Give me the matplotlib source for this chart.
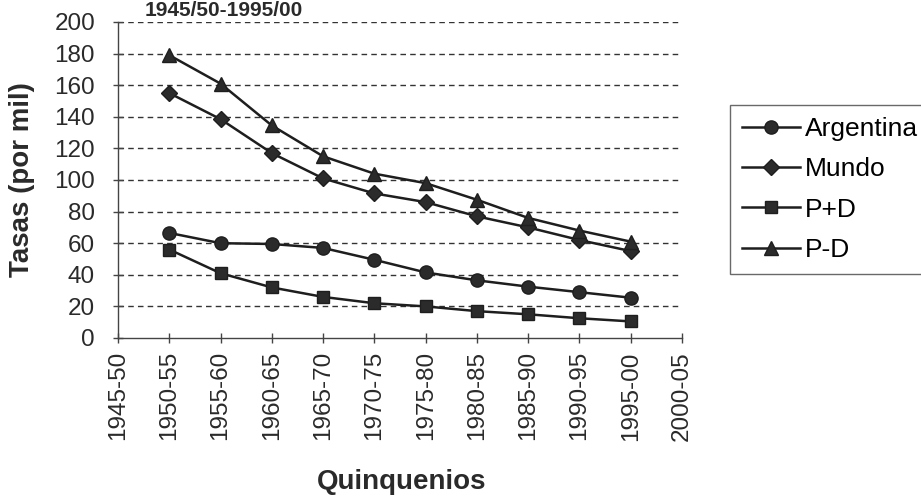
import matplotlib
matplotlib.use("Agg")
import matplotlib.pyplot as plt

plt.rcParams['font.family'] = ['Liberation Sans', 'DejaVu Sans']

quinquenios = ["1945-50", "1950-55", "1955-60", "1960-65", "1965-70", "1970-75",
               "1975-80", "1980-85", "1985-90", "1990-95", "1995-00", "2000-05"]
periodos_datos = ["1950-55", "1955-60", "1960-65", "1965-70", "1970-75",
                  "1975-80", "1980-85", "1985-90", "1990-95", "1995-00"]
argentina = [66.5, 60, 59.5, 57, 49.5, 41.5, 36.5, 32.5, 29, 25.5]
mundo = [155, 138.5, 117, 101, 91.5, 86, 77, 70, 62, 55]
p_mas_d = [56, 41, 32, 26, 22, 20, 17, 15, 12.5, 10.5]
p_menos_d = [179, 161, 134.5, 115, 104, 98, 87.5, 76, 68, 61]
yticks = [0, 20, 40, 60, 80, 100, 120, 140, 160, 180, 200]
titulo = "1945/50-1995/00"

W, H = 921, 499
fig = plt.figure(figsize=(W / 100, H / 100), dpi=100)
ax = fig.add_axes([118 / W, 1 - 338 / H, (682 - 118) / W, (338 - 22) / H])

xpos = [quinquenios.index(p) for p in periodos_datos]
c = "#1e1e1e"
common = dict(color=c, lw=1.8, markerfacecolor="#2b2b2b", markeredgecolor=c)
ax.plot(xpos, argentina, marker="o", markersize=9.5, label="Argentina", **common)
ax.plot(xpos, mundo, marker="D", markersize=8, label="Mundo", **common)
ax.plot(xpos, p_mas_d, marker="s", markersize=9, label="P+D", **common)
ax.plot(xpos, p_menos_d, marker="^", markersize=10.5, label="P-D", **common)

ax.set_xlim(0, len(quinquenios) - 1)
ax.set_ylim(0, 200)
ax.set_xticks(range(len(quinquenios)))
ax.set_xticklabels(quinquenios, rotation=90, fontsize=17.5, color="#2a2a2a")
ax.set_yticks(yticks)
ax.set_yticklabels([str(v) for v in yticks], fontsize=17.5, color="#2a2a2a")
ax.tick_params(axis="both", direction="inout", length=7, width=1, color="#444444")
ax.tick_params(axis="y", pad=13)
ax.tick_params(axis="x", pad=6)

for v in yticks[1:]:
    ax.axhline(v, color="#333333", lw=1.0, ls=(0, (4, 3)), zorder=0)

for s in ["top", "right"]:
    ax.spines[s].set_visible(False)
for s in ["left", "bottom"]:
    ax.spines[s].set_color("#444444")
    ax.spines[s].set_linewidth(1.0)

fig.text(22 / W, 1 - 180 / H, "Tasas (por mil)", rotation=90, ha="center", va="center",
         fontsize=20, fontweight="bold", color="#2a2a2a")
fig.text(402 / W, 1 - 482 / H, "Quinquenios", ha="center", va="center",
         fontsize=20, fontweight="bold", color="#2a2a2a")
fig.text(224 / W, 1 - 16 / H, titulo, ha="center", va="baseline",
         fontsize=15, fontweight="bold", color="#2a2a2a")

leg = ax.legend(loc="upper left", bbox_to_anchor=(730 / W, 1 - 105 / H),
                bbox_transform=fig.transFigure, fontsize=19, frameon=True,
                fancybox=False, edgecolor="#444444", handlelength=2.2,
                handletextpad=0.2, labelspacing=0.62, borderpad=0.45,
                borderaxespad=0)
leg.get_frame().set_linewidth(1.0)

fig.savefig("out.png", dpi=100)
